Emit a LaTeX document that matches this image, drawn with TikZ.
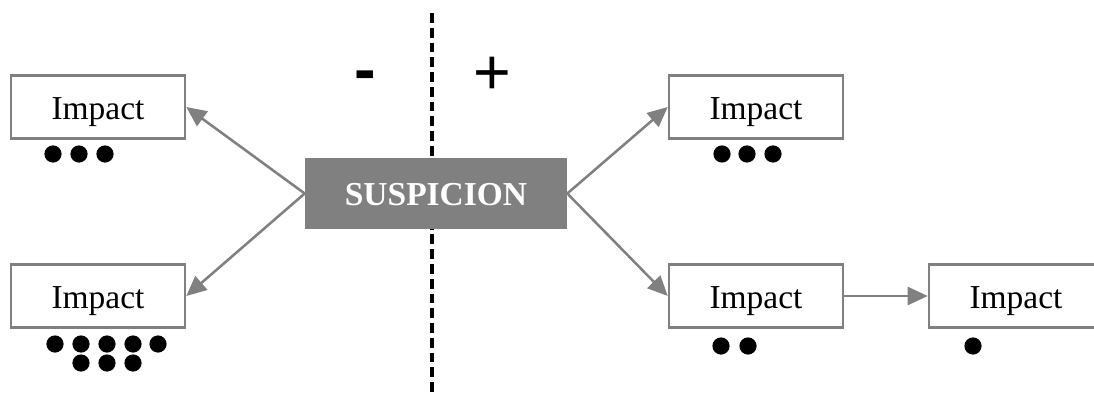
\documentclass[tikz,border=0pt]{standalone}
\usepackage{fontspec}
\setmainfont{Liberation Serif}
\newfontfamily\signfont{Liberation Sans}
\usepackage{xcolor}
\usetikzlibrary{arrows.meta,calc}
\definecolor{boxgray}{RGB}{128,128,128}
\tikzset{
	impact/.style={
			draw=boxgray, line width=1.8pt, fill=white,
			minimum width=4.35cm, minimum height=1.57cm, inner sep=0pt,
			text height=0.7cm, text depth=0.1cm,
			font=\fontsize{23.8}{28}\selectfont
		},
	link/.style={
			draw=boxgray, line width=1.8pt,
			-{Triangle[length=0.5cm, width=0.45cm]}
		},
	dot/.style={fill=black}
}

\begin{document}
\begin{tikzpicture}[x=0.025cm, y=-0.025cm]
		\useasboundingbox (0, 0) rectangle (1094, 394);

		\draw[black, line width=2.8pt, dash pattern=on 7pt off 3.5pt]	(432, 13) to (432, 394);

		\node[anchor=base, font=\signfont\bfseries\fontsize{46}{50}\selectfont] (minus) at (365, 92) {-};
		\node[anchor=base, font=\signfont\fontsize{46}{50}\selectfont] (plus) at (492, 95) {+};

		\node[fill=boxgray, minimum width=6.55cm, minimum height=1.78cm, inner sep=0pt,
			text height=0.6cm, text depth=0cm,
			text=white, font=\bfseries\fontsize{23.8}{28}\selectfont] (susp) at (436, 193.5) {SUSPICION};

		\node[impact] (negtop) at (98, 107) {Impact};
		\node[impact] (negbot) at (98, 296) {Impact};
		\node[impact] (postop) at (756, 107) {Impact};
		\node[impact] (posbot) at (756, 296) {Impact};
		\node[impact] (poslast) at (1016, 296) {Impact};

        \draw[link] (susp.west) to (negtop.east);
        \draw[link] (susp.west) to (negbot.east);
        \draw[link] (susp.east) to (postop.west);
        \draw[link] (susp.east) to (posbot.west);
        \draw[link] (posbot.east) to (poslast.west);

		\fill[dot]	(53, 154) circle (0.215cm)
					(79, 154) circle (0.215cm)
					(105, 154) circle (0.215cm)
					(55, 344) circle (0.215cm)
					(81, 344) circle (0.215cm)
					(107, 344) circle (0.215cm)
					(133, 344) circle (0.215cm)
					(158, 344) circle (0.215cm)
					(81, 363) circle (0.215cm)
					(107, 363) circle (0.215cm)
					(133, 363) circle (0.215cm)
					(722, 154) circle (0.215cm)
					(747, 154) circle (0.215cm)
					(773, 154) circle (0.215cm)
					(721, 346) circle (0.215cm)
					(748, 346) circle (0.215cm)
					(973, 346) circle (0.215cm);
    \end{tikzpicture}
\end{document}
